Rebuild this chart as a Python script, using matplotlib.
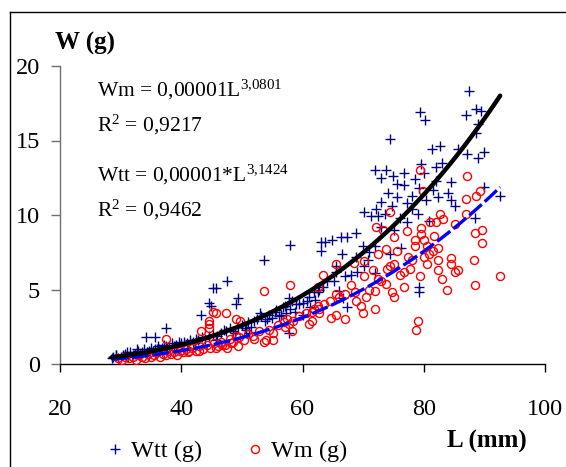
import matplotlib
matplotlib.use("Agg")
import matplotlib.pyplot as plt
from matplotlib.lines import Line2D
import numpy as np

plt.rcParams['font.family'] = ['Liberation Serif', 'DejaVu Serif']
plt.rcParams['mathtext.fontset'] = 'custom'
plt.rcParams['mathtext.rm'] = 'Liberation Serif'
plt.rcParams['mathtext.it'] = 'Liberation Serif:italic'
plt.rcParams['mathtext.bf'] = 'Liberation Serif:bold'

# ---- data: Wtt (g) ----
wtt_L = [28.8, 29.2, 29.5, 30.0, 30.4, 30.8, 31.2, 31.5, 32.0, 32.3, 32.8, 33.2, 33.5, 33.9,
         34.3, 34.6, 35.0, 35.3, 35.7, 36.1, 36.4, 36.8, 37.2, 37.6, 38.0, 38.4, 38.8, 39.2,
         39.6, 40.0, 40.5, 41.0, 41.4, 41.9, 42.4, 42.8, 43.4, 43.9, 44.5, 45.2, 45.9, 46.5,
         47.3, 48.0, 48.6, 49.3, 50.0, 50.5, 51.0, 51.5, 52.0, 52.5, 53.2, 53.8, 54.5, 55.0,
         55.7, 56.2, 56.8, 57.3, 58.0, 59.0, 60.0, 61.0, 62.0,
         87.4, 79.3, 80.2, 86.9, 88.7, 89.5, 89.0, 74.4, 88.6, 81.3, 82.7, 85.7, 87.2, 89.0,
         89.9, 83.0, 82.1, 79.5, 71.9, 73.8, 72.9, 75.0, 76.8, 78.6, 80.1, 84.5, 76.8, 79.2,
         89.9, 92.6, 74.1, 75.6, 82.4, 84.5, 73.0, 70.2, 71.3, 72.5, 74.8, 77.3, 79.0, 85.2,
         88.4, 73.0, 75.1, 77.2, 68.8, 67.3, 63.1, 63.7, 64.9, 66.4, 63.0, 66.5, 69.9, 72.0,
         68.8, 58.0, 53.6, 70.2, 72.0, 65.6, 67.0, 65.2, 63.4, 62.5, 79.2, 79.2, 66.7, 67.3,
         47.6, 45.2, 45.8, 44.6, 44.9, 49.4, 49.1, 43.3, 37.5, 34.2, 35.7, 57.7, 58.3, 57.1,
         59.5, 58.8, 56.5, 55.4, 53.0, 54.2, 60.7, 61.9, 61.3, 60.1, 57.7, 47.0, 50.6, 51.2,
         48.8, 45.8, 42.3, 39.9, 37.5, 36.0, 32.7, 31.0, 29.2, 28.6,
         75.6, 78.0, 80.4, 81.6, 72.1, 73.6, 70.8, 74.4, 76.2, 69.0, 71.0, 76.0, 78.0, 80.8,
         82.0, 84.0, 64.0, 65.5, 68.0, 62.8, 66.0]
wtt_W = [0.5, 0.6, 0.4, 0.5, 0.6, 0.7, 0.5, 0.8, 0.6, 0.7, 0.9, 0.7, 0.8, 1.0,
         0.8, 0.9, 1.1, 0.9, 1.0, 1.2, 1.0, 1.1, 1.3, 1.1, 1.2, 1.4, 1.2, 1.3,
         1.5, 1.3, 1.5, 1.4, 1.6, 1.5, 1.7, 1.6, 1.8, 1.7, 1.9, 2.0, 1.9, 2.1,
         2.2, 2.4, 2.2, 2.5, 2.6, 2.4, 2.8, 2.5, 2.9, 3.0, 3.2, 2.9, 3.3, 3.1,
         3.6, 3.2, 3.8, 3.4, 3.7, 4.0, 4.1, 4.5, 4.3,
         18.3, 16.9, 16.4, 16.7, 17.1, 17.0, 16.1, 15.1, 15.5, 14.4, 14.6, 14.4, 14.1, 13.8,
         14.2, 13.5, 13.2, 13.4, 13.0, 13.0, 12.5, 12.6, 12.8, 12.4, 12.8, 12.2, 12.0, 11.8,
         11.9, 11.3, 11.5, 11.2, 11.2, 11.0, 10.9, 10.2, 9.9, 9.9, 10.6, 10.8, 10.1, 10.6,
         9.8, 9.2, 9.0, 9.5, 8.8, 8.5, 8.2, 8.2, 8.3, 8.5, 7.6, 7.4, 7.9, 7.9,
         7.2, 8.0, 7.0, 6.6, 6.1, 6.6, 5.9, 5.6, 5.2, 4.8, 5.2, 4.8, 4.4, 3.8,
         5.6, 5.1, 5.1, 4.1, 3.9, 4.4, 4.0, 3.3, 2.4, 1.8, 1.8, 4.4, 4.2, 3.9,
         4.0, 3.5, 3.3, 3.5, 3.4, 3.0, 4.2, 4.8, 3.8, 3.3, 2.1, 2.3, 2.3, 2.1,
         2.1, 1.6, 1.4, 1.4, 1.2, 1.0, 1.0, 0.8, 0.6, 0.4,
         12.1, 11.3, 11.0, 11.7, 10.4, 10.1, 7.0, 7.4, 7.8, 6.2, 7.5, 9.8, 10.4, 9.6,
         12.3, 11.5, 5.6, 6.2, 6.0, 5.0, 4.9]

# ---- data: Wm (g) ----
wm_L = [29.5, 30.2, 30.8, 31.4, 32.0, 32.5, 33.0, 33.6, 34.0, 34.5, 35.0, 35.5, 36.0, 36.5,
        37.0, 37.5, 37.8, 38.3, 38.8, 39.3, 39.8, 40.3, 40.8, 41.3, 41.8, 42.4, 43.0, 43.6,
        44.2, 44.8, 45.4, 46.0, 46.6, 47.2, 48.0, 48.6, 49.5, 50.3, 51.0, 52.0, 52.8, 54.5,
        56.0, 57.0, 58.5, 59.5, 60.5, 61.5, 62.5, 63.5, 64.5, 66.0, 67.0,
        79.3, 87.2, 79.9, 86.9, 88.6, 89.3, 74.4, 82.7, 86.9, 81.1, 82.0, 83.2, 85.2, 72.2,
        73.3, 75.1, 77.2, 79.5, 79.5, 80.1, 78.6, 88.5, 89.6, 89.6, 81.7, 82.3, 80.5, 78.6,
        73.7, 72.5, 75.6, 77.4, 80.9, 82.4, 84.5, 84.5, 88.3, 70.2, 75.1, 80.5, 65.6, 68.5,
        71.6, 74.4, 76.8, 85.1, 85.7, 82.4, 63.4, 79.4, 92.6, 70.2, 72.5, 73.7, 76.8, 83.0,
        58.0, 88.5, 68.0, 83.9, 53.6, 68.6, 71.9, 74.8, 75.1, 70.5, 65.5, 62.5, 68.8, 69.6,
        72.0, 69.9, 62.8, 62.8, 61.9, 65.6, 64.7, 67.0, 61.6, 61.0, 79.0, 78.8, 57.4, 57.7,
        58.3, 57.1, 55.1, 53.9, 55.1, 53.6, 51.8, 49.1, 49.7, 47.3, 45.8, 45.2, 44.5, 44.6,
        44.6, 43.2, 49.1, 48.2, 47.6, 49.4, 46.7, 45.8, 37.5, 42.9, 41.1,
        76.0, 78.0, 81.5, 74.0, 71.0, 77.8, 80.0, 73.0]
wm_W = [0.4, 0.3, 0.5, 0.4, 0.5, 0.3, 0.6, 0.5, 0.4, 0.7, 0.5, 0.6, 0.8, 0.5,
        0.7, 0.6, 0.9, 0.7, 0.8, 0.6, 0.9, 0.8, 1.0, 0.9, 1.1, 0.9, 1.2, 1.0,
        1.3, 1.1, 1.4, 1.2, 1.5, 1.3, 1.7, 1.5, 1.8, 1.6, 2.0, 1.7, 2.2, 2.3,
        2.6, 2.8, 2.9, 3.2, 3.4, 3.5, 3.9, 4.0, 4.2, 4.5, 4.7,
        13.0, 12.6, 11.6, 11.1, 11.3, 11.6, 10.2, 10.1, 10.1, 9.5, 9.5, 9.7, 9.4, 9.2,
        9.0, 8.5, 8.9, 9.1, 8.7, 8.3, 8.3, 8.8, 9.0, 8.1, 8.6, 7.8, 7.9, 7.9,
        7.7, 7.4, 7.6, 7.2, 7.4, 7.0, 7.1, 6.7, 7.0, 6.9, 6.7, 6.7, 6.7, 6.8,
        6.3, 6.6, 6.2, 6.2, 6.3, 6.3, 6.0, 5.9, 5.9, 5.9, 5.7, 5.4, 5.2, 5.7,
        5.3, 5.3, 5.3, 5.0, 4.9, 4.8, 4.9, 4.8, 4.5, 4.5, 4.7, 5.2, 4.2, 3.9,
        3.7, 3.4, 3.7, 3.4, 3.7, 3.3, 3.1, 3.0, 2.9, 2.7, 2.9, 2.3, 3.0, 2.7,
        2.2, 2.5, 2.1, 1.6, 1.6, 1.5, 1.9, 3.0, 2.9, 3.4, 3.4, 3.5, 2.9, 2.7,
        2.4, 2.2, 1.9, 1.4, 1.1, 1.2, 1.3, 1.1, 1.7, 0.9, 0.8,
        6.0, 7.0, 7.6, 6.4, 5.0, 6.4, 7.2, 5.6]

# trend lines (power fits shown on the chart)
wtt_a, wtt_b = 1.19e-5, 3.1424
wm_a, wm_b = 1.04e-5, 3.0801
fit_L_min, fit_L_max = 28.5, 92.6

eq_texts = [r'Wm = 0,00001L$^{\mathrm{3{,}0801}}$', r'R$^{\mathrm{2}}$ = 0,9217',
            r'Wtt = 0,00001*L$^{\mathrm{3{,}1424}}$', r'R$^{\mathrm{2}}$ = 0,9462']
x_ticks = [20, 40, 60, 80, 100]
y_ticks = [0, 5, 10, 15, 20]

W, H = 566, 467
fig = plt.figure(figsize=(W / 100, H / 100), dpi=100)
ax = fig.add_axes([60 / W, 1 - 364 / H, (545 - 60) / W, (364 - 66) / H])

ax.plot(wtt_L, wtt_W, linestyle='none', marker='+', color='#000080',
        markersize=7.5, markeredgewidth=1.0, label='Wtt (g)', zorder=2)
ax.plot(wm_L, wm_W, linestyle='none', marker='o', markerfacecolor='none',
        markeredgecolor='#FF0000', markersize=5.8, markeredgewidth=1.0,
        label='Wm (g)', zorder=3)

Lf = np.linspace(fit_L_min, fit_L_max, 200)
ax.plot(Lf, wm_a * Lf ** wm_b, color='#0000FF', linewidth=2.4,
        dashes=(5, 1.2), zorder=4)
ax.plot(Lf, wtt_a * Lf ** wtt_b, color='black', linewidth=3.2, zorder=5,
        solid_capstyle='round')

ax.set_xlim(20, 100)
ax.set_ylim(0, 20)
ax.set_xticks(x_ticks)
ax.set_yticks(y_ticks)
for s in ['top', 'right']:
    ax.spines[s].set_visible(False)
ax.spines['left'].set_color('#707070')
ax.spines['bottom'].set_color('black')
ax.spines['left'].set_linewidth(1.0)
ax.spines['bottom'].set_linewidth(1.0)
ax.tick_params(axis='x', direction='out', length=6, width=1, pad=19,
               labelsize=17.5, color='black')
ax.tick_params(axis='y', direction='out', length=6.5, width=1, pad=8,
               labelsize=17.5, color='#707070')

# equations
ybases = [96, 131, 181, 216]
for t, yb in zip(eq_texts, ybases):
    fig.text(97 / W, 1 - yb / H, t, fontsize=15.5, ha='left', va='baseline')

fig.text(55 / W, 1 - 50 / H, 'W (g)', fontsize=18, fontweight='bold',
         ha='left', va='baseline')
fig.text(447 / W, 1 - 448 / H, 'L (mm)', fontsize=18, fontweight='bold',
         ha='left', va='baseline')

h, l = ax.get_legend_handles_labels()
fig.legend(h, l, loc='center left', bbox_to_anchor=(107.5 / W, 1 - 451 / H),
           ncol=2, frameon=False, fontsize=17.5, handlelength=0.62,
           handletextpad=0.35, columnspacing=1.87, borderpad=0, borderaxespad=0)

# figure border (left and top edges visible)
fig.add_artist(Line2D([10 / W, 10 / W], [0, 1 - 12 / H], color='black', lw=1.0,
                      transform=fig.transFigure))
fig.add_artist(Line2D([10 / W, 1], [1 - 12 / H, 1 - 12 / H], color='black', lw=1.0,
                      transform=fig.transFigure))

fig.savefig('out.png', dpi=100)
